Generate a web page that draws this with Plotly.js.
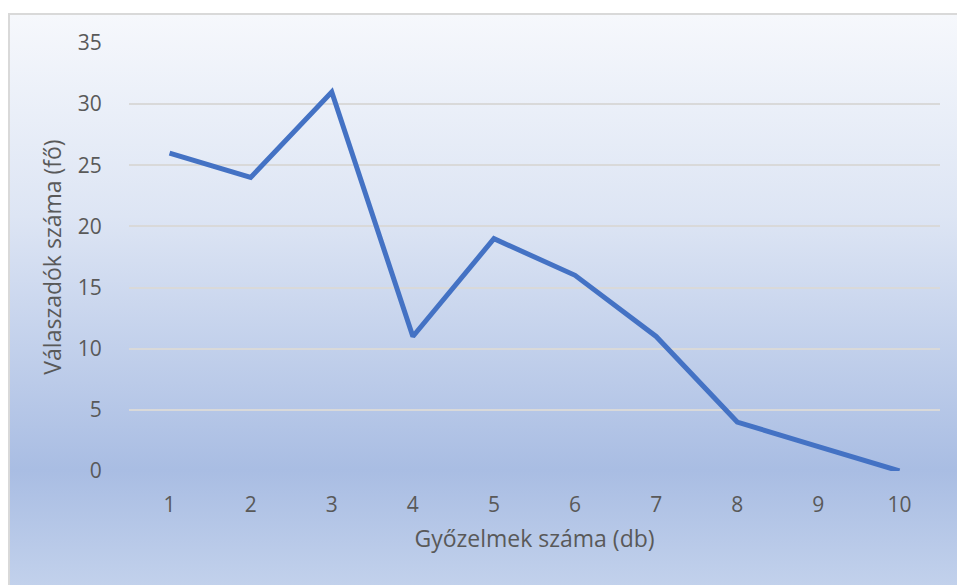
<!DOCTYPE html>
<html>
<head>
<meta charset="utf-8">
<script src="https://cdn.plot.ly/plotly-3.0.1.min.js"></script>
<style>
html,body{margin:0;padding:0;background:#fff;overflow:hidden;}
#wrap{position:relative;width:957px;height:585px;}
#bg{position:absolute;left:8px;top:13px;width:960px;height:580px;box-sizing:border-box;border:2px solid #d9d9d9;
background:linear-gradient(to bottom,#f6f8fc 0%,#dde5f4 35%,#a9bde3 79%,#c3d2ec 100%);}
#chart{position:absolute;left:0;top:0;width:957px;height:585px;}
</style>
</head>
<body>
<div id="wrap"><div id="bg"></div><div id="chart"></div></div>
<script>
const categories = ['1','2','3','4','5','6','7','8','9','10'];
const values = [26, 24, 31, 11, 19, 16, 11, 4, 2, 0];
const yTicks = [0, 5, 10, 15, 20, 25, 30, 35];
const xTitle = 'Győzelmek száma (db)';
const yTitle = 'Válaszadók száma (fő)';

Plotly.newPlot('chart', [{
  type: 'scatter', mode: 'lines',
  x: categories, y: values,
  line: {color: '#4472c4', width: 5},
  hoverinfo: 'skip'
}], {
  width: 957, height: 585,
  margin: {l: 129, r: 17, t: 43, b: 114},
  paper_bgcolor: 'rgba(0,0,0,0)', plot_bgcolor: 'rgba(0,0,0,0)',
  showlegend: false,
  font: {family: 'Open Sans, Liberation Sans, sans-serif', color: '#595959', size: 21},
  xaxis: {
    type: 'category', range: [-0.5, 9.5],
    showgrid: false, zeroline: false, showline: false,
    ticks: 'outside', ticklen: 15, tickcolor: 'rgba(0,0,0,0)',
    tickfont: {family: 'Open Sans, sans-serif', size: 21, color: '#595959'},
    title: {text: xTitle, font: {size: 23, color: '#595959'}, standoff: 13}
  },
  yaxis: {
    range: [0, 35], tickvals: yTicks,
    showgrid: true, gridcolor: '#d9d9d9', gridwidth: 2,
    zeroline: false, showline: false,
    ticks: 'outside', ticklen: 22, tickcolor: 'rgba(0,0,0,0)',
    tickfont: {family: 'Open Sans, sans-serif', size: 21, color: '#595959'},
    title: {text: yTitle, font: {size: 23, color: '#595959'}, standoff: 9}
  }
}, {displayModeBar: false, staticPlot: true});
</script>
</body>
</html>
